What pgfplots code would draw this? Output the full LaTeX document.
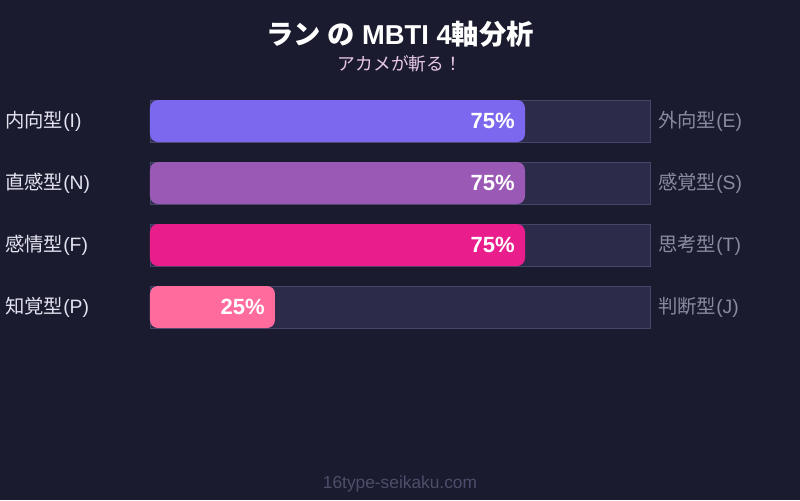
\documentclass[border=0pt]{standalone}
\usepackage{fontspec}
\usepackage{pgfplots}
\pgfplotsset{compat=1.18}
\setmainfont{Liberation Sans}
\newfontfamily\cjk{Noto Sans CJK JP}
\definecolor{bg}{HTML}{1A1B2E}
\definecolor{track}{HTML}{2D2B4A}
\definecolor{trackedge}{HTML}{46456A}
\definecolor{cEI}{HTML}{7B68EE}
\definecolor{cNS}{HTML}{9B59B6}
\definecolor{cFT}{HTML}{E91E8C}
\definecolor{cPJ}{HTML}{FF6B9D}
\definecolor{lefttxt}{HTML}{E2E2F0}
\definecolor{righttxt}{HTML}{8A8AA2}
\definecolor{subtxt}{HTML}{EAC8EA}
\definecolor{foot}{HTML}{4E4E6C}
\begin{document}
\begin{tikzpicture}
% background, 800x500 px at 0.75pt per px
\fill[bg] (0,0) rectangle (600pt,-375pt);
\node[font=\fontsize{20.5}{23}\selectfont\bfseries, text=white] at (300pt,-25.5pt) {{\cjk ラン の} MBTI 4{\cjk 軸分析}};
\node[font=\fontsize{13.3}{15}\selectfont\cjk, text=subtxt] at (300pt,-48pt) {アカメが斬る！};
\node[font=\fontsize{13}{15}\selectfont, text=foot] at (300pt,-363pt) {16type-seikaku.com};

\begin{axis}[
  at={(112.5pt,-253.5pt)}, anchor=south west,
  scale only axis, width=375pt, height=186pt,
  xmin=0, xmax=100, ymin=-0.5, ymax=3.5,
  y dir=reverse,
  hide axis, clip=false,
  xbar, bar width=31.5pt, bar shift=0pt,
  nodes near coords={\pgfmathprintnumber[assume math mode=true]{\pgfplotspointmeta}\%},
  nodes near coords style={anchor=east, inner sep=0pt, xshift=-7.5pt, text=white,
    font=\fontsize{16.5}{19}\selectfont\bfseries},
]
\addplot[xbar, fill=track, draw=trackedge, line width=0.6pt, nodes near coords={}]
  coordinates {(100,0) (100,1) (100,2) (100,3)};
\addplot[xbar, fill=cEI, draw=none, rounded corners=6pt] coordinates {(75,0)};
\addplot[xbar, fill=cNS, draw=none, rounded corners=6pt] coordinates {(75,1)};
\addplot[xbar, fill=cFT, draw=none, rounded corners=6pt] coordinates {(75,2)};
\addplot[xbar, fill=cPJ, draw=none, rounded corners=6pt] coordinates {(25,3)};

\begin{scope}[every node/.style={inner sep=0pt, font=\fontsize{14.5}{17}\selectfont}]
\node[anchor=west, text=lefttxt, xshift=-108.75pt] at (axis cs:0,0) {{\cjk 内向型}(I)};
\node[anchor=west, text=lefttxt, xshift=-108.75pt] at (axis cs:0,1) {{\cjk 直感型}(N)};
\node[anchor=west, text=lefttxt, xshift=-108.75pt] at (axis cs:0,2) {{\cjk 感情型}(F)};
\node[anchor=west, text=lefttxt, xshift=-108.75pt] at (axis cs:0,3) {{\cjk 知覚型}(P)};
\node[anchor=west, text=righttxt, xshift=6pt] at (axis cs:100,0) {{\cjk 外向型}(E)};
\node[anchor=west, text=righttxt, xshift=6pt] at (axis cs:100,1) {{\cjk 感覚型}(S)};
\node[anchor=west, text=righttxt, xshift=6pt] at (axis cs:100,2) {{\cjk 思考型}(T)};
\node[anchor=west, text=righttxt, xshift=6pt] at (axis cs:100,3) {{\cjk 判断型}(J)};
\end{scope}
\end{axis}
\end{tikzpicture}
\end{document}
